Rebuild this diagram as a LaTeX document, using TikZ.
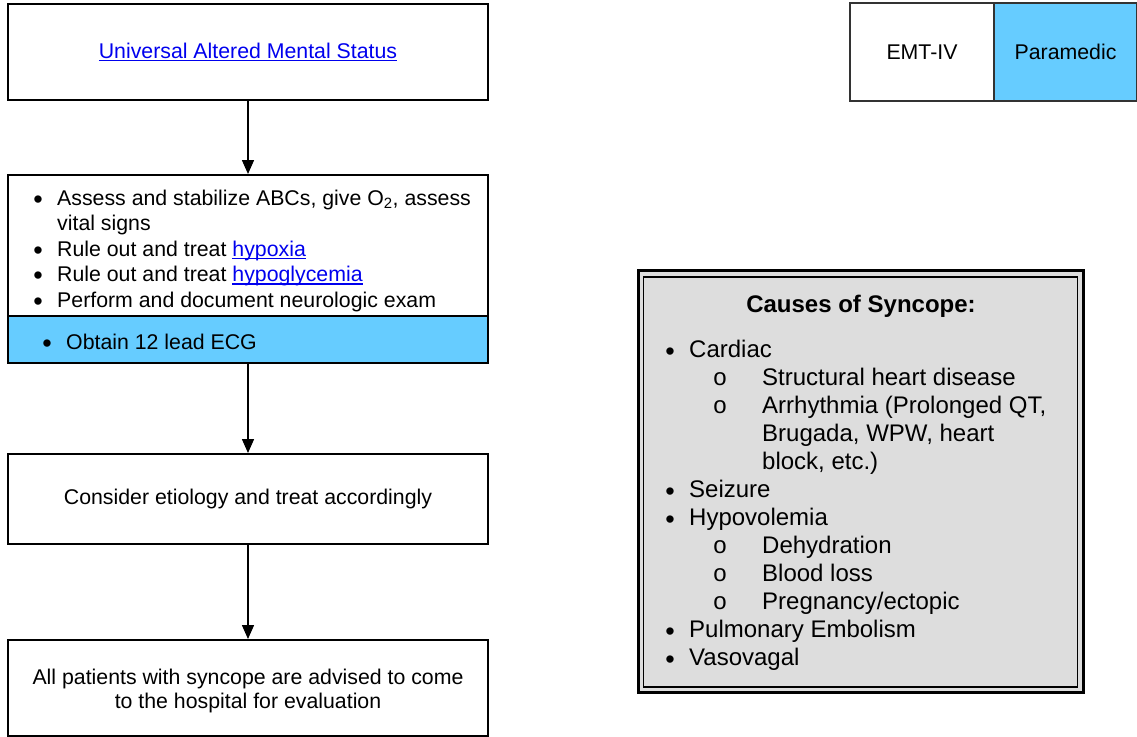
\documentclass[tikz,border=0pt]{standalone}
\usepackage{fontspec}
\setmainfont{Liberation Sans}
\usetikzlibrary{arrows.meta}
\definecolor{para}{HTML}{66CCFF}
\definecolor{causegray}{HTML}{DDDDDD}
\definecolor{linkblue}{HTML}{0000EE}
\definecolor{edgegray}{HTML}{333333}
\newcommand{\lnk}[1]{{\color{linkblue}\setbox0\hbox{#1}\rlap{\rule[-3pt]{\wd0}{1.3pt}}\box0}}
\newcommand{\bul}{\raisebox{-3pt}{\fontsize{27}{27}\selectfont\textbullet}}
\begin{document}
\begin{tikzpicture}[x=1pt,y=-1pt,
  box/.style={draw=black, line width=2pt, minimum width=480pt, inner sep=0pt,
    font=\fontsize{21.3}{24}\selectfont, align=center},
  lvl/.style={draw=edgegray, line width=1.5pt, minimum height=98pt, inner sep=0pt,
    font=\fontsize{21.3}{24}\selectfont},
  flow/.style={line width=1.5pt, -{Triangle[length=14pt,width=12pt]}},
  ltxt/.style={anchor=base west, inner sep=0pt, font=\fontsize{21.3}{24}\selectfont},
  lbul/.style={anchor=base, inner sep=0pt, font=\fontsize{21.3}{24}\selectfont},
  rtxt/.style={anchor=base west, inner sep=0pt, font=\fontsize{24}{28}\selectfont},
  rbul/.style={anchor=base, inner sep=0pt, font=\fontsize{24}{28}\selectfont}]
\useasboundingbox (0,0) rectangle (1137,736);

% left flow
\node[box, minimum height=96pt] (b1) at (248,52) {\lnk{Universal Altered Mental Status}};
\node[box, minimum height=141pt] (b2a) at (248,245.5) {};
\node[box, fill=para, minimum height=47pt] (b2b) at (248,339.5) {};
\node[box, minimum height=90pt] (b3) at (248,499) {Consider etiology and treat accordingly};
\node[box, minimum height=96pt] (b4) at (248,688) {};
\node[align=center, inner sep=0pt, font=\fontsize{21.3}{24}\selectfont] (b4t) at (248,691) {All patients with syncope are advised to come\\to the hospital for evaluation};

\node[lbul] (lb1) at (38,205) {\bul};
\node[ltxt] (lt1) at (57,205) {Assess and stabilize ABCs, give O\textsubscript{2}, assess};
\node[ltxt] (lt1b) at (57,230.5) {vital signs};
\node[lbul] (lb2) at (38,256) {\bul};
\node[ltxt] (lt2) at (57,256) {Rule out and treat \lnk{hypoxia}};
\node[lbul] (lb3) at (38,281.5) {\bul};
\node[ltxt] (lt3) at (57,281.5) {Rule out and treat \lnk{hypoglycemia}};
\node[lbul] (lb4) at (38,307) {\bul};
\node[ltxt] (lt4) at (57,307) {Perform and document neurologic exam};
\node[lbul] (lb5) at (47,349.5) {\bul};
\node[ltxt] (lt5) at (66,349.5) {Obtain 12 lead ECG};

\draw[flow] (b1) -- (b2a);
\draw[flow] (b2b) -- (b3);
\draw[flow] (b3) -- (b4);

% level boxes
\node[lvl, minimum width=144pt] (emt) at (922,52) {EMT-IV};
\node[lvl, fill=para, minimum width=143pt] (par) at (1065.5,52) {Paramedic};

% causes box
\node[draw=black, line width=3pt, fill=causegray, minimum width=445pt, minimum height=422pt, inner sep=0pt] (cs) at (860.5,481.5) {};
\node[draw=black, line width=1.2pt, minimum width=434pt, minimum height=410pt, inner sep=0pt] (csin) at (860.5,482) {};
\node[anchor=base, inner sep=0pt, font=\fontsize{24}{28}\selectfont\bfseries] (ct) at (861,312.5) {Causes of Syncope:};

\node[rbul] (c1b) at (670,357) {\bul};
\node[rtxt] (c1) at (689,357) {Cardiac};
\node[rbul] (c2b) at (720,385) {o};
\node[rtxt] (c2) at (762,385) {Structural heart disease};
\node[rbul] (c3b) at (720,413) {o};
\node[rtxt] (c3) at (762,413) {Arrhythmia (Prolonged QT,};
\node[rtxt] (c3c) at (762,441) {Brugada, WPW, heart};
\node[rtxt] (c3d) at (762,469) {block, etc.)};
\node[rbul] (c4b) at (670,497) {\bul};
\node[rtxt] (c4) at (689,497) {Seizure};
\node[rbul] (c5b) at (670,525) {\bul};
\node[rtxt] (c5) at (689,525) {Hypovolemia};
\node[rbul] (c6b) at (720,553) {o};
\node[rtxt] (c6) at (762,553) {Dehydration};
\node[rbul] (c7b) at (720,581) {o};
\node[rtxt] (c7) at (762,581) {Blood loss};
\node[rbul] (c8b) at (720,609) {o};
\node[rtxt] (c8) at (762,609) {Pregnancy/ectopic};
\node[rbul] (c9b) at (670,637) {\bul};
\node[rtxt] (c9) at (689,637) {Pulmonary Embolism};
\node[rbul] (c10b) at (670,665) {\bul};
\node[rtxt] (c10) at (689,665) {Vasovagal};
\end{tikzpicture}
\end{document}
